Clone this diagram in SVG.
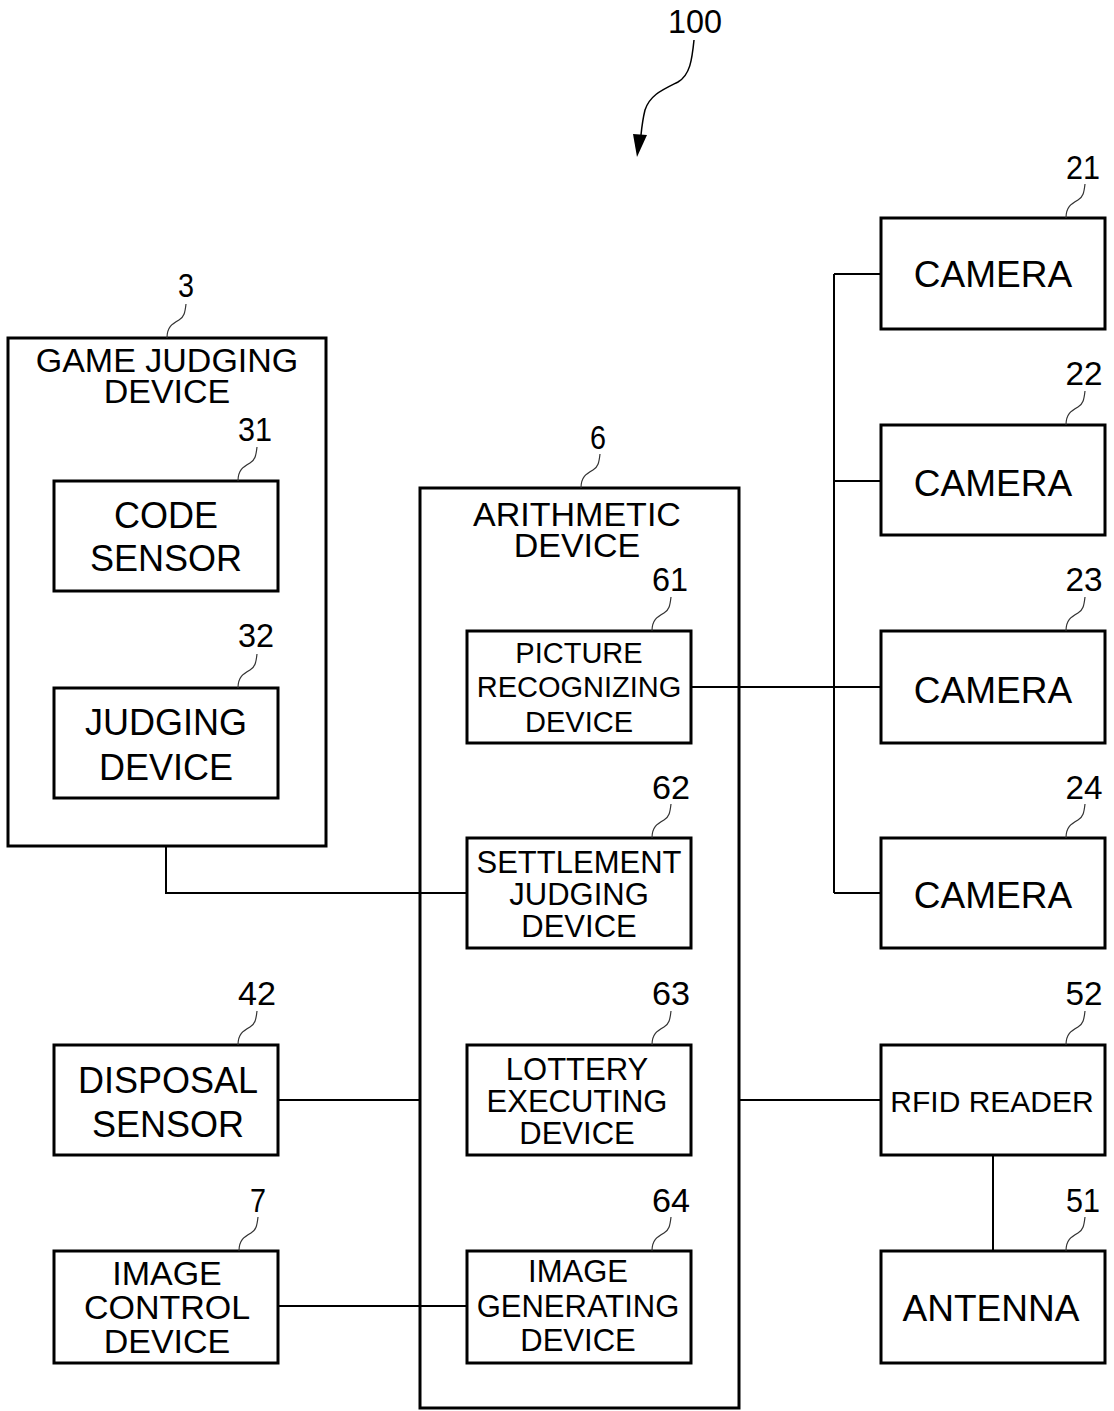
<svg xmlns="http://www.w3.org/2000/svg" width="1114" height="1411" viewBox="0 0 1114 1411">
<style>
.b{fill:#fff;stroke:#000;stroke-width:3}
.o{fill:none;stroke:#000;stroke-width:3}
.t{font-family:"Liberation Sans",Arial,sans-serif;fill:#000;text-anchor:middle}
.n{font-family:"Liberation Sans",Arial,sans-serif;fill:#000;font-size:34px;text-anchor:middle}
.c{fill:none;stroke:#000;stroke-width:2}
.l{fill:none;stroke:#333;stroke-width:1.2}
</style>
<defs>
<path id="ld" class="l" d="M0,0 C-1,9 -2,13 -7,16 C-14,20 -19,23 -19,34"/>
</defs>
<rect width="1114" height="1411" fill="#fff"/>
<g id="label100">
<text class="n" x="695" y="33" textLength="54" lengthAdjust="spacingAndGlyphs">100</text>
<path fill="none" stroke="#000" stroke-width="1.5" d="M694,40 C692,60 690,75 678,82 C662,90 650,95 645,110 C643,118 642,125 641,135"/>
<polygon points="633,134 647,135 637,157" fill="#000"/>
</g>
<g id="n3">
<rect class="o" x="8" y="338" width="318" height="508"/>
<text class="t" font-size="34" x="167" y="372">GAME JUDGING</text>
<text class="t" font-size="34" x="167" y="403">DEVICE</text>
<text class="n" x="186" y="297" textLength="16" lengthAdjust="spacingAndGlyphs">3</text>
<use href="#ld" x="186" y="304"/>
</g>
<g id="n31">
<rect class="b" x="54" y="481" width="224" height="110"/>
<text class="t" font-size="36" x="166" y="528">CODE</text>
<text class="t" font-size="36" x="166" y="571">SENSOR</text>
<text class="n" x="255" y="441" textLength="34" lengthAdjust="spacingAndGlyphs">31</text>
<use href="#ld" x="257" y="447"/>
</g>
<g id="n32">
<rect class="b" x="54" y="688" width="224" height="110"/>
<text class="t" font-size="36" x="166" y="735">JUDGING</text>
<text class="t" font-size="36" x="166" y="780">DEVICE</text>
<text class="n" x="256" y="647" textLength="36" lengthAdjust="spacingAndGlyphs">32</text>
<use href="#ld" x="257" y="654"/>
</g>
<g id="n6">
<rect class="o" x="420" y="488" width="319" height="920"/>
<text class="t" font-size="34" x="577" y="526">ARITHMETIC</text>
<text class="t" font-size="34" x="577" y="557">DEVICE</text>
<text class="n" x="598" y="449" textLength="16" lengthAdjust="spacingAndGlyphs">6</text>
<use href="#ld" x="600" y="454"/>
</g>
<g id="n61">
<rect class="b" x="467" y="631" width="224" height="112"/>
<text class="t" font-size="29" x="579" y="663">PICTURE</text>
<text class="t" font-size="29" x="579" y="697">RECOGNIZING</text>
<text class="t" font-size="29" x="579" y="732">DEVICE</text>
<text class="n" x="670" y="591" textLength="36" lengthAdjust="spacingAndGlyphs">61</text>
<use href="#ld" x="671" y="597"/>
</g>
<g id="n62">
<rect class="b" x="467" y="838" width="224" height="110"/>
<text class="t" font-size="31" x="579" y="873">SETTLEMENT</text>
<text class="t" font-size="31" x="579" y="905">JUDGING</text>
<text class="t" font-size="31" x="579" y="937">DEVICE</text>
<text class="n" x="671" y="799" textLength="38" lengthAdjust="spacingAndGlyphs">62</text>
<use href="#ld" x="671" y="804"/>
</g>
<g id="n63">
<rect class="b" x="467" y="1045" width="224" height="110"/>
<text class="t" font-size="31" x="577" y="1080">LOTTERY</text>
<text class="t" font-size="31" x="577" y="1112">EXECUTING</text>
<text class="t" font-size="31" x="577" y="1144">DEVICE</text>
<text class="n" x="671" y="1005" textLength="38" lengthAdjust="spacingAndGlyphs">63</text>
<use href="#ld" x="671" y="1011"/>
</g>
<g id="n64">
<rect class="b" x="467" y="1251" width="224" height="112"/>
<text class="t" font-size="31" x="578" y="1282">IMAGE</text>
<text class="t" font-size="31" x="578" y="1317">GENERATING</text>
<text class="t" font-size="31" x="578" y="1351">DEVICE</text>
<text class="n" x="671" y="1212" textLength="38" lengthAdjust="spacingAndGlyphs">64</text>
<use href="#ld" x="671" y="1217"/>
</g>
<g id="n42">
<rect class="b" x="54" y="1045" width="224" height="110"/>
<text class="t" font-size="36" x="168" y="1093">DISPOSAL</text>
<text class="t" font-size="36" x="168" y="1137">SENSOR</text>
<text class="n" x="257" y="1005" textLength="38" lengthAdjust="spacingAndGlyphs">42</text>
<use href="#ld" x="257" y="1011"/>
</g>
<g id="n7">
<rect class="b" x="54" y="1251" width="224" height="112"/>
<text class="t" font-size="34" x="167" y="1285">IMAGE</text>
<text class="t" font-size="34" x="167" y="1319">CONTROL</text>
<text class="t" font-size="34" x="167" y="1353">DEVICE</text>
<text class="n" x="258" y="1212" textLength="16" lengthAdjust="spacingAndGlyphs">7</text>
<use href="#ld" x="258" y="1217"/>
</g>
<g id="n21">
<rect class="b" x="881" y="218" width="224" height="111"/>
<text class="t" font-size="37" x="993" y="287">CAMERA</text>
<text class="n" x="1083" y="179" textLength="34" lengthAdjust="spacingAndGlyphs">21</text>
<use href="#ld" x="1085" y="184"/>
</g>
<g id="n22">
<rect class="b" x="881" y="425" width="224" height="110"/>
<text class="t" font-size="37" x="993" y="496">CAMERA</text>
<text class="n" x="1084" y="385" textLength="37" lengthAdjust="spacingAndGlyphs">22</text>
<use href="#ld" x="1085" y="391"/>
</g>
<g id="n23">
<rect class="b" x="881" y="631" width="224" height="112"/>
<text class="t" font-size="37" x="993" y="703">CAMERA</text>
<text class="n" x="1084" y="591" textLength="37" lengthAdjust="spacingAndGlyphs">23</text>
<use href="#ld" x="1085" y="597"/>
</g>
<g id="n24">
<rect class="b" x="881" y="838" width="224" height="110"/>
<text class="t" font-size="37" x="993" y="908">CAMERA</text>
<text class="n" x="1084" y="799" textLength="37" lengthAdjust="spacingAndGlyphs">24</text>
<use href="#ld" x="1085" y="804"/>
</g>
<g id="n52">
<rect class="b" x="881" y="1045" width="224" height="110"/>
<text class="t" font-size="30" x="992" y="1112">RFID READER</text>
<text class="n" x="1084" y="1005" textLength="37" lengthAdjust="spacingAndGlyphs">52</text>
<use href="#ld" x="1085" y="1011"/>
</g>
<g id="n51">
<rect class="b" x="881" y="1251" width="224" height="112"/>
<text class="t" font-size="37" x="991" y="1321">ANTENNA</text>
<text class="n" x="1083" y="1212" textLength="34" lengthAdjust="spacingAndGlyphs">51</text>
<use href="#ld" x="1085" y="1217"/>
</g>
<g id="connectors">
<path class="c" d="M834,274 V893 M834,274 H881 M834,481 H881 M834,893 H881"/>
<path class="c" d="M692,687 H881"/>
<path class="c" d="M166,846 V893 H467"/>
<path class="c" d="M278,1100 H420"/>
<path class="c" d="M739,1100 H881"/>
<path class="c" d="M993,1155 V1251"/>
<path class="c" d="M278,1306 H467"/>
</g>
</svg>
